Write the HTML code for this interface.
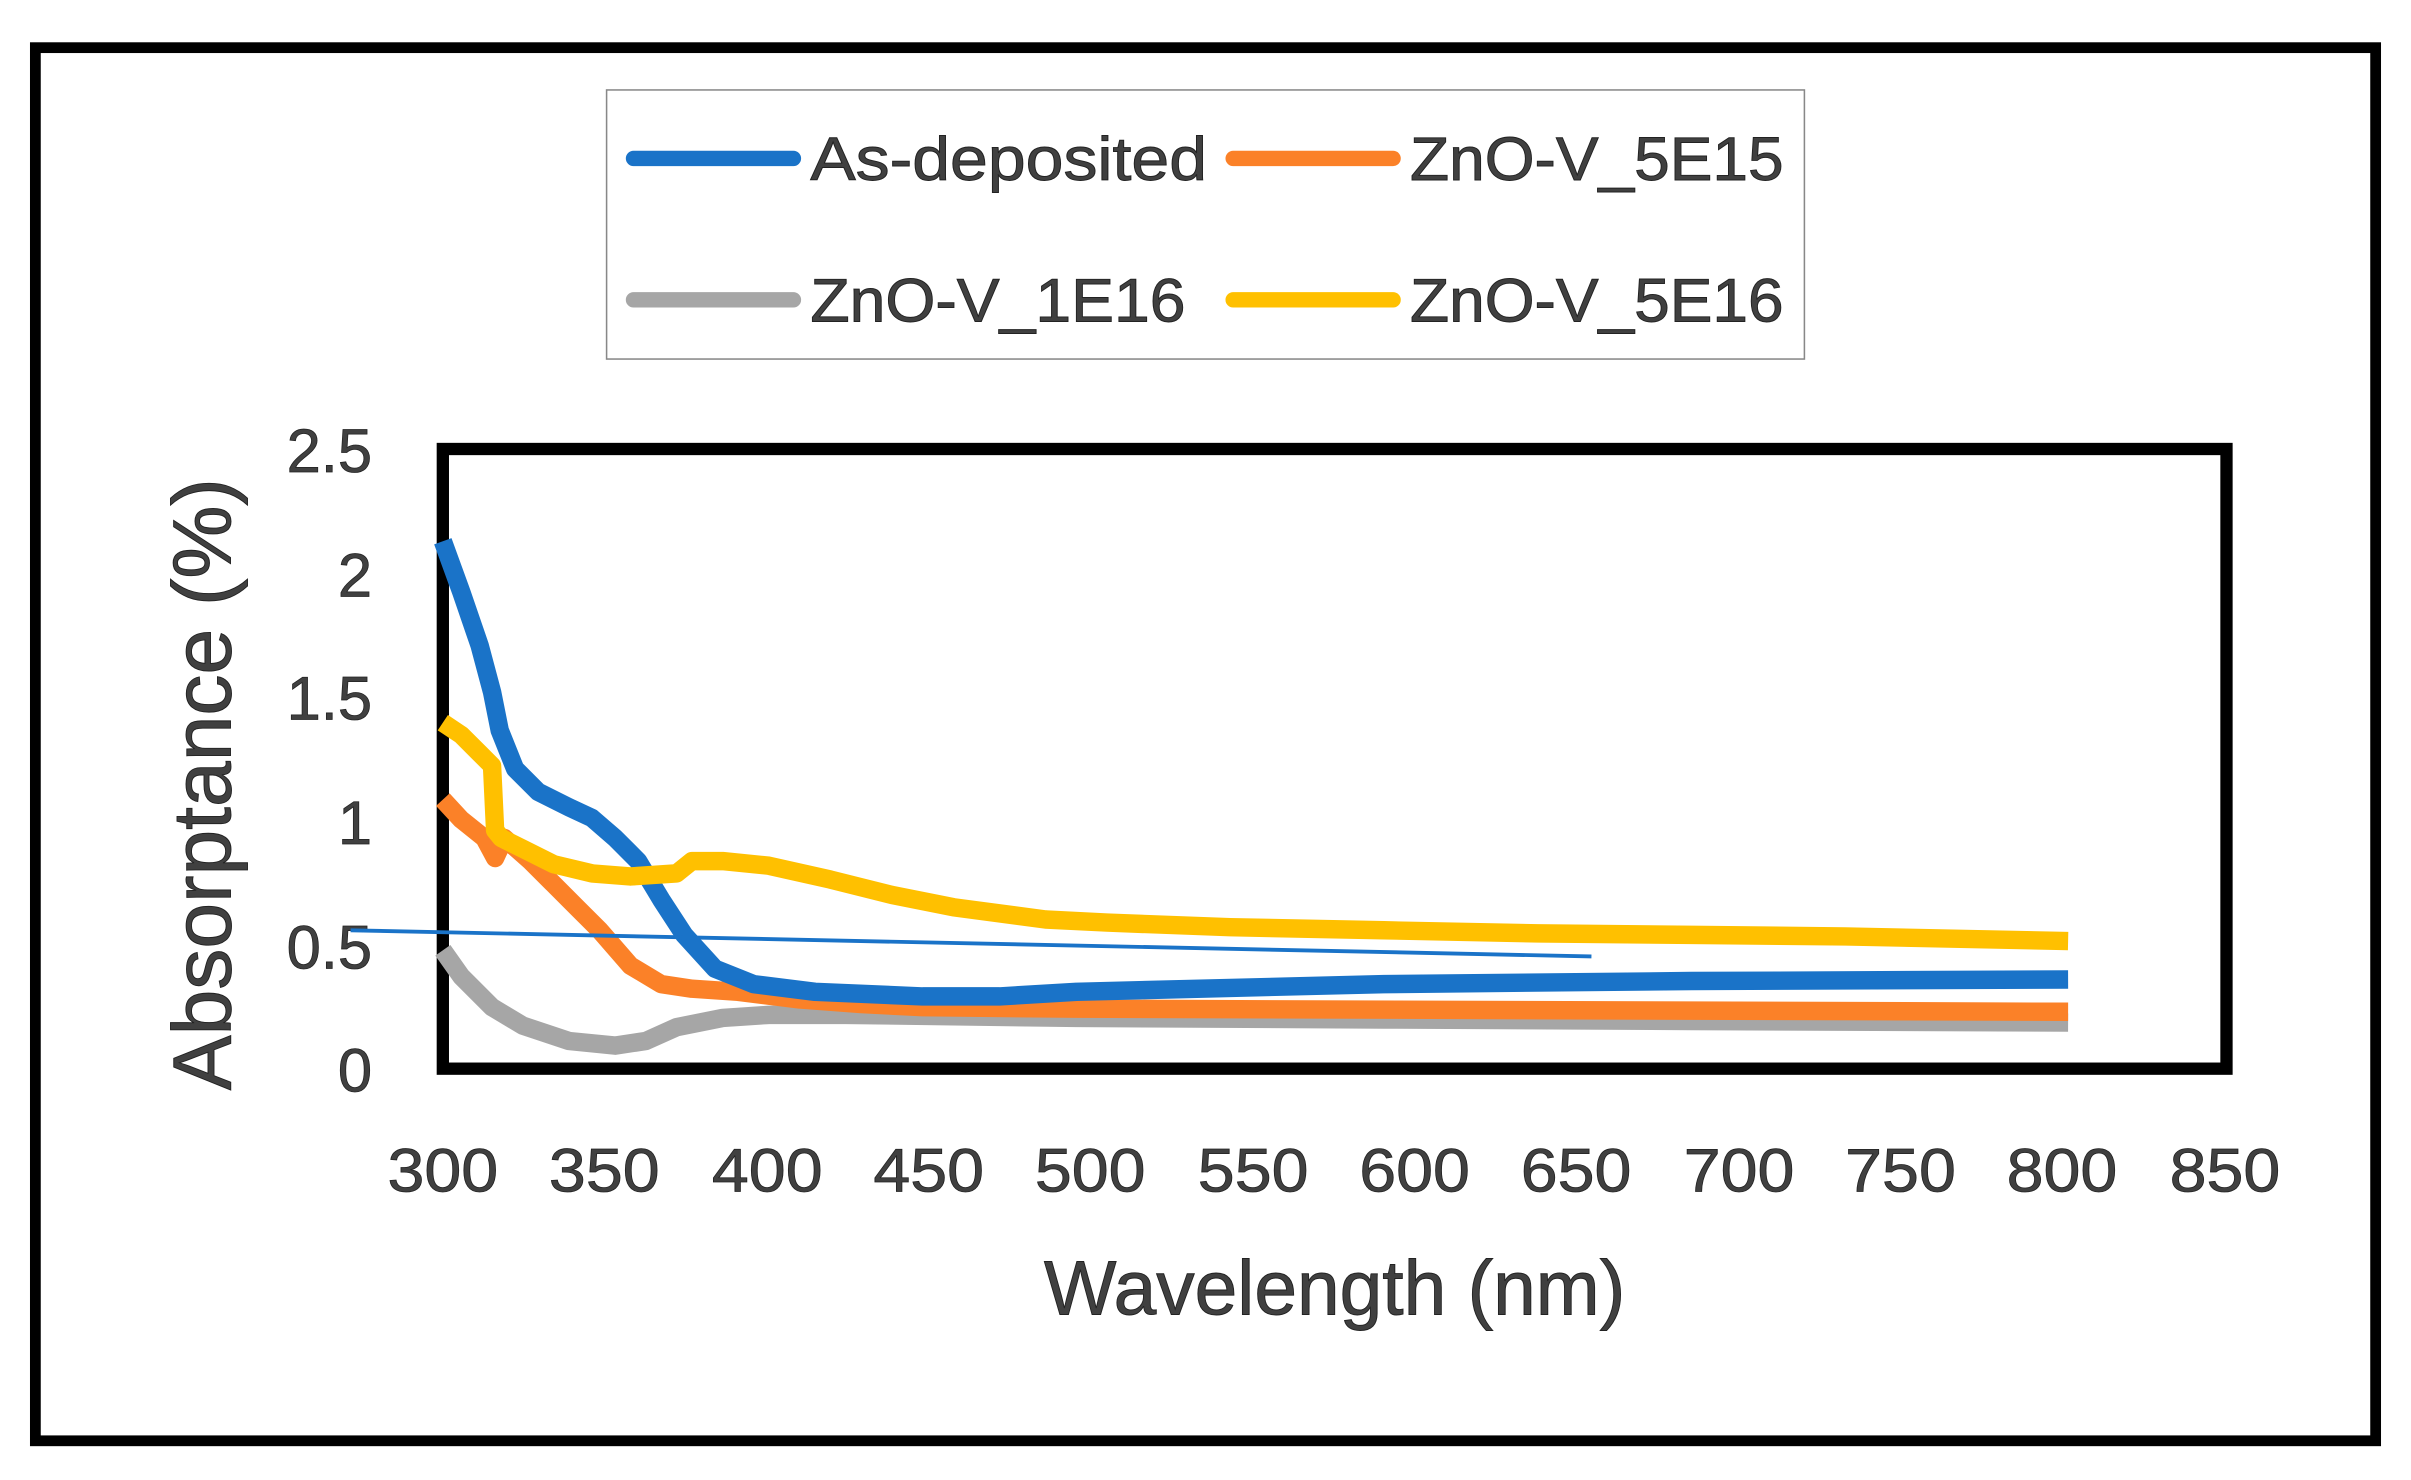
<!DOCTYPE html>
<html><head><style>html,body{margin:0;padding:0;background:#fff}svg{display:block}</style></head>
<body>
<svg width="2411" height="1480" viewBox="0 0 1568 962.5" preserveAspectRatio="none" xmlns="http://www.w3.org/2000/svg" font-family="Liberation Sans, sans-serif">
<rect x="0" y="0" width="1568" height="962.5" fill="#fff"/>
<rect x="23" y="31" width="1522" height="906" fill="none" stroke="#000" stroke-width="7"/>
<rect x="394.5" y="58.5" width="779" height="175" fill="#fff" stroke="#888" stroke-width="1"/>
<g stroke-width="10" stroke-linecap="round">
<line x1="412" y1="103" x2="516" y2="103" stroke="#1a73c8"/>
<line x1="802" y1="103" x2="906" y2="103" stroke="#fb8128"/>
<line x1="412" y1="195" x2="516" y2="195" stroke="#a6a6a6"/>
<line x1="802" y1="195" x2="906" y2="195" stroke="#ffc000"/>
</g>
<g fill="#404040" font-size="40" stroke="#222" stroke-width="0.6">
<text x="527" y="117" textLength="258" lengthAdjust="spacingAndGlyphs">As-deposited</text>
<text x="917" y="117" textLength="243" lengthAdjust="spacingAndGlyphs">ZnO-V_5E15</text>
<text x="527" y="209" textLength="244" lengthAdjust="spacingAndGlyphs">ZnO-V_1E16</text>
<text x="917" y="209" textLength="243" lengthAdjust="spacingAndGlyphs">ZnO-V_5E16</text>
</g>
<rect x="288" y="292" width="1160" height="403" fill="none" stroke="#000" stroke-width="8"/>
<g fill="#404040" font-size="40" stroke="#222" stroke-width="0.5" text-anchor="end">
<text x="242" y="307">2.5</text>
<text x="242" y="388">2</text>
<text x="242" y="468">1.5</text>
<text x="242" y="549">1</text>
<text x="242" y="630">0.5</text>
<text x="242" y="710">0</text>
</g>
<g fill="#404040" font-size="40" stroke="#222" stroke-width="0.5" text-anchor="middle">
<text x="288" y="775" textLength="72" lengthAdjust="spacingAndGlyphs">300</text><text x="393" y="775" textLength="72" lengthAdjust="spacingAndGlyphs">350</text><text x="499" y="775" textLength="72" lengthAdjust="spacingAndGlyphs">400</text>
<text x="604" y="775" textLength="72" lengthAdjust="spacingAndGlyphs">450</text><text x="709" y="775" textLength="72" lengthAdjust="spacingAndGlyphs">500</text><text x="815" y="775" textLength="72" lengthAdjust="spacingAndGlyphs">550</text>
<text x="920" y="775" textLength="72" lengthAdjust="spacingAndGlyphs">600</text><text x="1025" y="775" textLength="72" lengthAdjust="spacingAndGlyphs">650</text><text x="1131" y="775" textLength="72" lengthAdjust="spacingAndGlyphs">700</text>
<text x="1236" y="775" textLength="72" lengthAdjust="spacingAndGlyphs">750</text><text x="1341" y="775" textLength="72" lengthAdjust="spacingAndGlyphs">800</text><text x="1447" y="775" textLength="72" lengthAdjust="spacingAndGlyphs">850</text>
</g>
<text x="868" y="855" text-anchor="middle" font-size="50" fill="#404040" stroke="#222" stroke-width="0.6" textLength="378" lengthAdjust="spacingAndGlyphs">Wavelength (nm)</text>
<text transform="translate(150,510) rotate(-90)" text-anchor="middle" font-size="54" fill="#404040" stroke="#222" stroke-width="0.6" textLength="398" lengthAdjust="spacingAndGlyphs">Absorptance (%)</text>
<g fill="none" stroke-width="12" stroke-linejoin="round">
<polyline stroke="#a6a6a6" points="288,618 300,635 320,655 340,667 370,677 400,680 420,677 440,668 470,662 500,660 550,660 700,662 900,663 1100,664 1345,665"/>
<polyline stroke="#fb8128" points="288,520 300,533 315,545 322,558 328,545 345,560 360,575 375,590 390,605 410,628 430,640 450,643 480,645 520,650 560,653 600,655 700,656 1345,658"/>
<polyline stroke="#1a73c8" points="288,352 300,385 312,420 320,450 325,475 335,500 350,515 370,525 385,532 400,545 415,560 430,585 445,608 465,630 490,640 530,645 600,648 650,648 700,645 900,640 1100,638 1345,637"/>
<polyline stroke="#ffc000" points="288,470 300,478 312,490 320,498 322,540 326,545 340,552 360,562 385,568 410,570 440,568 450,560 470,560 500,563 540,572 580,582 620,590 680,598 720,600 800,603 900,605 1000,607 1100,608 1200,609 1345,612"/>
</g>
<line x1="228" y1="605" x2="1035" y2="622" stroke="#1a73c8" stroke-width="2.5"/>
</svg>
</body></html>
